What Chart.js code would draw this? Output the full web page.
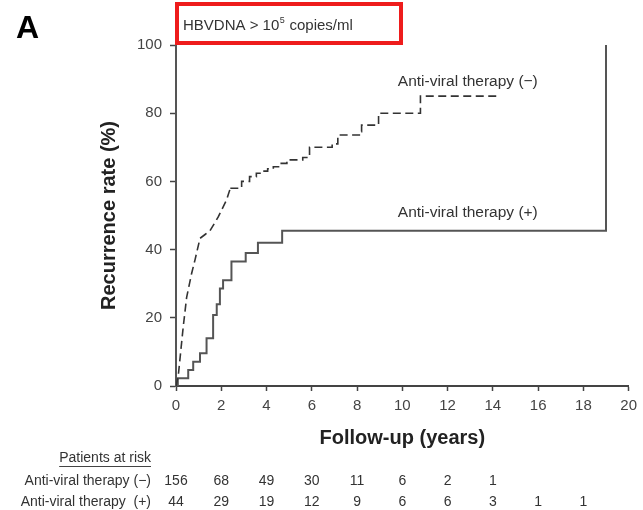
<!DOCTYPE html>
<html>
<head>
<meta charset="utf-8">
<script src="https://cdn.jsdelivr.net/npm/chart.js@4.4.1/dist/chart.umd.min.js"></script>
<style>
  html, body { margin: 0; padding: 0; background: #fff; }
</style>
</head>
<body>
<canvas id="recurrenceChart" width="643" height="510"></canvas>
<script>
// Anti-viral therapy (-) : cumulative recurrence (%)
// early part rises almost smoothly, later part is a clear staircase
const yearsMinusEarly = [0, 0.1, 0.32, 0.47, 0.69, 0.84, 1.06, 1.3, 1.5, 1.86, 2.23, 2.4];
const rateMinusEarly  = [0, 3, 17.4, 26, 33, 37, 43.3, 44.5, 45.5, 49.5, 54.5, 58];
const yearsMinusLate = [2.4, 2.9, 3.25, 3.55, 3.8, 4.05, 4.3, 4.6, 4.9, 5.6, 5.9, 6.9, 7.15, 8.1, 8.2, 8.95, 10.8, 14.2];
const rateMinusLate  = [58, 60, 61.4, 62.4, 63, 63.7, 64.3, 65.3, 66.3, 67, 70, 71, 73.6, 74.6, 76.5, 80, 85, 85];

// Anti-viral therapy (+)
const yearsPlus = [0, 0.08, 0.54, 0.76, 1.06, 1.35, 1.64, 1.8, 1.94, 2.08, 2.45, 3.08, 3.62, 4.69, 19];
const ratePlus  = [0, 2.3, 4.7, 7.1, 9.6, 14, 20.8, 24, 28.6, 31, 36.5, 39, 42, 45.5, 100];

// patients at risk
const riskYears = [0, 2, 4, 6, 8, 10, 12, 14, 16, 18];
const riskMinus = [156, 68, 49, 30, 11, 6, 2, 1];
const riskPlus  = [44, 29, 19, 12, 9, 6, 6, 3, 1, 1];

const seriesNames = ['Anti-viral therapy (\u2212)', 'Anti-viral therapy (+)'];
const riskLabels = ['Anti-viral therapy (\u2212)', 'Anti-viral therapy  (+)'];
const labelAt = [[9.8, 89.2], [9.8, 50.7]]; // [year, %] where the curve labels sit

const toPoints = (xs, ys) => xs.map((x, i) => ({x: x, y: ys[i]}));

const FONT = '"Liberation Sans", Arial, sans-serif';

const extras = {
  id: 'extras',
  afterDraw(chart) {
    const {ctx, scales: {x, y}} = chart;
    ctx.save();

    // panel letter
    ctx.fillStyle = '#000';
    ctx.font = 'bold 32px ' + FONT;
    ctx.textAlign = 'left';
    ctx.textBaseline = 'alphabetic';
    ctx.fillText('A', 16, 38);

    // red box with subtitle
    ctx.strokeStyle = '#ee1c1c';
    ctx.lineWidth = 4;
    ctx.strokeRect(177, 4, 224, 39);
    ctx.fillStyle = '#333';
    ctx.font = '15px ' + FONT;
    let tx = 183;
    const base = 30;
    const s1 = 'HBVDNA > 10';
    ctx.fillText(s1, tx, base);
    tx += ctx.measureText(s1).width;
    ctx.font = '9px ' + FONT;
    ctx.fillText('5', tx + 0.5, base - 7);
    tx += ctx.measureText('5').width + 1;
    ctx.font = '15px ' + FONT;
    ctx.fillText(' copies/ml', tx, base);

    // curve labels
    ctx.fillStyle = '#333';
    ctx.font = '15.5px ' + FONT;
    ctx.textBaseline = 'middle';
    seriesNames.forEach((name, i) => {
      ctx.fillText(name, x.getPixelForValue(labelAt[i][0]), y.getPixelForValue(labelAt[i][1]));
    });

    // patients at risk table
    ctx.fillStyle = '#333';
    ctx.font = '14px ' + FONT;
    ctx.textAlign = 'right';
    ctx.fillText('Patients at risk', 151, 458);
    const w = ctx.measureText('Patients at risk').width;
    ctx.strokeStyle = '#444';
    ctx.lineWidth = 1;
    ctx.beginPath();
    ctx.moveTo(151 - w, 466.5);
    ctx.lineTo(151, 466.5);
    ctx.stroke();

    const rows = [riskMinus, riskPlus];
    const rowY = [481, 502];
    rows.forEach((row, r) => {
      ctx.textAlign = 'right';
      ctx.fillText(riskLabels[r], 151, rowY[r]);
      ctx.textAlign = 'center';
      row.forEach((n, i) => {
        ctx.fillText(String(n), x.getPixelForValue(riskYears[i]), rowY[r]);
      });
    });

    ctx.restore();
  }
};

const dashedStyle = {
  borderColor: '#333',
  borderWidth: 1.6,
  borderDash: [8, 4.5],
  pointRadius: 0,
  fill: false
};

new Chart(document.getElementById('recurrenceChart'), {
  type: 'line',
  data: {
    datasets: [
      Object.assign({label: seriesNames[0], data: toPoints(yearsMinusEarly, rateMinusEarly), stepped: false}, dashedStyle),
      Object.assign({label: seriesNames[0], data: toPoints(yearsMinusLate, rateMinusLate), stepped: true}, dashedStyle),
      {
        label: seriesNames[1],
        data: toPoints(yearsPlus, ratePlus),
        stepped: true,
        borderColor: '#555',
        borderWidth: 2,
        pointRadius: 0,
        fill: false
      }
    ]
  },
  options: {
    responsive: false,
    animation: false,
    layout: {padding: {top: 45, right: 12, left: 0, bottom: 0}},
    scales: {
      x: {
        type: 'linear',
        min: 0,
        max: 20,
        ticks: {stepSize: 2, color: '#444', font: {size: 15, family: FONT}, padding: 6, maxRotation: 0},
        grid: {drawOnChartArea: false, tickLength: 5, tickColor: '#444', tickWidth: 1.5},
        border: {color: '#444', width: 2},
        title: {
          display: true,
          text: 'Follow-up (years)',
          color: '#222',
          font: {size: 20, weight: 'bold', family: FONT},
          padding: {top: 0, bottom: 60}
        },
        afterFit(scale) { scale.height = 124; }
      },
      y: {
        min: 0,
        max: 100,
        ticks: {stepSize: 20, color: '#444', font: {size: 15, family: FONT}, padding: 8},
        grid: {drawOnChartArea: false, tickLength: 6, tickColor: '#444', tickWidth: 1.5},
        border: {color: '#555', width: 2},
        title: {
          display: true,
          text: 'Recurrence rate (%)',
          color: '#222',
          font: {size: 20, weight: 'bold', family: FONT},
          padding: {top: 97, bottom: 0}
        },
        afterFit(scale) { scale.width = 176; }
      }
    },
    plugins: {
      legend: {display: false},
      tooltip: {enabled: false}
    }
  },
  plugins: [extras]
});
</script>
</body>
</html>
